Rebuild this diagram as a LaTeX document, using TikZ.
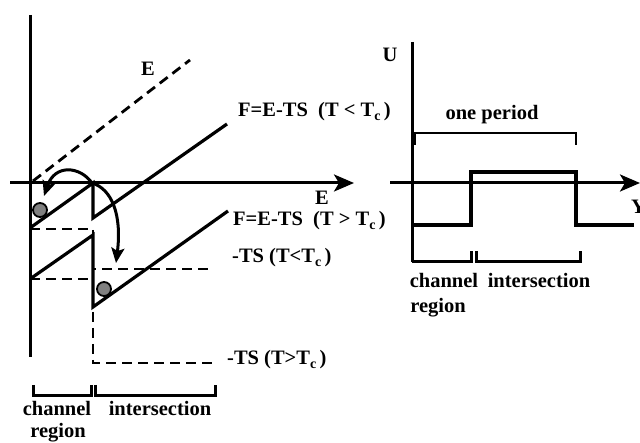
\documentclass[tikz,border=0pt]{standalone}
\usepackage{fontspec}
\setmainfont{Liberation Serif}
\usetikzlibrary{arrows.meta}
\newcommand\subc{\raisebox{-0.4ex}{\fontsize{14}{14}\selectfont c}}
\tikzset{
  thick line/.style={line width=3.2pt, line join=miter},
  dash line/.style={line width=2.8pt, dash pattern=on 10pt off 6pt},
  axis/.style={line width=3pt, -{Stealth[length=20pt,width=17pt,inset=5pt]}},
  curvearrow/.style={line width=3pt, -{Stealth[length=15pt,width=13pt,inset=3pt]}},
  lbl/.style={font=\fontsize{20.5}{23}\selectfont\bfseries, inner sep=0pt},
  ball/.style={circle, fill=black!50, draw=black, line width=1.8pt, minimum size=14pt, inner sep=0pt},
  thinbracket/.style={line width=1.4pt},
}
\begin{document}
\begin{tikzpicture}[x=1pt,y=-1pt]
\useasboundingbox (0,0) rectangle (640,443);
% ---------------- left panel ----------------
\coordinate (vtop) at (30,15);
\coordinate (vbot) at (30,357);
\coordinate (hstart) at (10,183);
\coordinate (hend) at (354,183);
\draw[line width=3pt] (vtop) -- (vbot);
\draw[axis] (hstart) -- (hend);
% dashed E line
\coordinate (e0) at (33,181);
\coordinate (e1) at (190,60);
\draw[dash line] (e0) -- (e1);
\node[lbl, anchor=base] (Elbl) at (148,76) {E};
\node[lbl, anchor=base] (Eax) at (322,205) {E};
% -TS levels (dashed)
\coordinate (d1a) at (30,229);
\coordinate (d1b) at (93,229);
\coordinate (d1c) at (93,269);
\coordinate (d1d) at (213,269);
\draw[dash line] (d1a) -- (d1b) -- (d1c) -- (d1d);
\coordinate (d2a) at (30,279);
\coordinate (d2b) at (93,279);
\coordinate (d2c) at (93,363);
\coordinate (d2d) at (213,363);
\draw[dash line] (d2a) -- (d2b) -- (d2c) -- (d2d);
% upper sawtooth (T < Tc)
\coordinate (u1) at (30,228);
\coordinate (u2) at (93,183);
\coordinate (u3) at (93,218);
\coordinate (u4) at (227,124);
\draw[thick line] (u1) -- (u2) -- (u3) -- (u4);
% lower sawtooth (T > Tc)
\coordinate (l1) at (30,279);
\coordinate (l2) at (93,235);
\coordinate (l3) at (93,307);
\coordinate (l4) at (228,211);
\draw[thick line] (l1) -- (l2) -- (l3) -- (l4);
% balls
\node[ball] (b1) at (40,210) {};
\node[ball] (b2) at (104,289) {};
% curved arrows
\coordinate (a0) at (92,183);
\coordinate (a1) at (44,196);
\coordinate (a2) at (116,263);
\draw[curvearrow] (a0) .. controls (80,166) and (55,164) .. (a1);
\draw[curvearrow] (a0) .. controls (112,189) and (122,215) .. (a2);
% labels
\node[lbl, anchor=base west] (F1) at (238,117) {F=E-TS\ \ (T \textless{} T\subc\,)};
\node[lbl, anchor=base west] (F2) at (233,226) {F=E-TS\ \ (T \textgreater{} T\subc\,)};
\node[lbl, anchor=base west] (TS1) at (232,263) {-TS (T\textless T\subc\,)};
\node[lbl, anchor=base west] (TS2) at (227,365) {-TS (T\textgreater T\subc\,)};
% bottom brackets left
\draw[line width=3pt] (33,385) -- (33,396) -- (91,396) -- (91,385);
\draw[line width=3pt] (95,385) -- (95,396) -- (215,396) -- (215,385);
\node[lbl, anchor=base] (ch1) at (57,416) {channel};
\node[lbl, anchor=base] (rg1) at (58,438) {region};
\node[lbl, anchor=base] (in1) at (160,416) {intersection};
% ---------------- right panel ----------------
\coordinate (Utop) at (412,42);
\coordinate (Ubot) at (412,262);
\draw[line width=3pt] (Utop) -- (Ubot);
\node[lbl, anchor=base] (Ulbl) at (390,62) {U};
\coordinate (ystart) at (390,183);
\coordinate (yend) at (640,183);
\draw[axis] (ystart) -- (yend);
\node[lbl, anchor=base west] (Ylbl) at (631,214) {Y};
% square wave
\draw[thick line] (412,225) -- (471,225) -- (471,172) -- (576,172) -- (576,225) -- (634,225);
% one period bracket
\draw[thinbracket] (415,145) -- (415,133) -- (576,133) -- (576,145);
\node[lbl, anchor=base] (per) at (492,120) {one period};
% bottom brackets right
\draw[line width=3pt] (412,262) -- (471,262) -- (471,251);
\draw[line width=3pt] (476,251) -- (476,262) -- (580,262) -- (580,251);
\node[lbl, anchor=base] (ch2) at (444,288) {channel};
\node[lbl, anchor=base] (rg2) at (438,313) {region};
\node[lbl, anchor=base] (in2) at (539,288) {intersection};
\end{tikzpicture}
\end{document}
